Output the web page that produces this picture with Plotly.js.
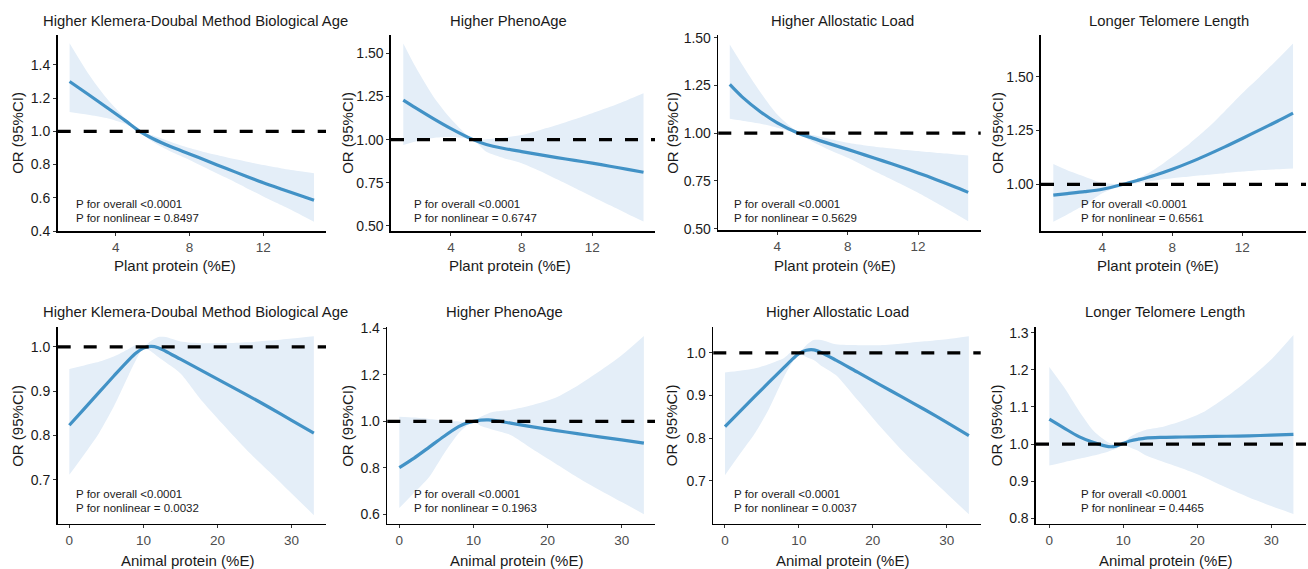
<!DOCTYPE html>
<html><head><meta charset="utf-8">
<script src="https://cdn.plot.ly/plotly-3.0.1.min.js"></script>
<style>html,body{margin:0;padding:0;background:#fff}#chart{width:1308px;height:569px}</style>
</head><body><div id="chart"></div>
<script>
// ---------- DATA ----------
const outcomes = ["Higher Klemera-Doubal Method Biological Age", "Higher PhenoAge", "Higher Allostatic Load", "Longer Telomere Length"];
const exposures = ["Plant protein (%E)", "Animal protein (%E)"];
const yAxisTitle = "OR (95%CI)";
const pOverall = ["<0.0001", "<0.0001", "<0.0001", "<0.0001", "<0.0001", "<0.0001", "<0.0001", "<0.0001"];
const pNonlinear = ["0.8497", "0.6747", "0.5629", "0.6561", "0.0032", "0.1963", "0.0037", "0.4465"];

const plantTicks = [4, 8, 12];
const animalTicks = [0, 10, 20, 30];
const yTicks1 = [0.4, 0.6, 0.8, 1.0, 1.2, 1.4];
const yTicks2 = [0.50, 0.75, 1.00, 1.25, 1.50];
const yTicks3 = [0.50, 0.75, 1.00, 1.25, 1.50];
const yTicks4 = [1.00, 1.25, 1.50];
const yTicks5 = [0.7, 0.8, 0.9, 1.0];
const yTicks6 = [0.6, 0.8, 1.0, 1.2, 1.4];
const yTicks7 = [0.7, 0.8, 0.9, 1.0];
const yTicks8 = [0.8, 0.9, 1.0, 1.1, 1.2, 1.3];

// Panel 1: Plant protein -> KDM biological age
const p1X  = [1.5, 2.5, 3.5, 4.5, 5.3, 6, 7, 8, 9, 10, 11, 12, 13, 14, 14.75];
const p1OR = [1.30, 1.223, 1.145, 1.066, 1.00, 0.957, 0.907, 0.864, 0.82, 0.776, 0.733, 0.691, 0.652, 0.614, 0.585];
const p1Hi = [1.53, 1.35, 1.20, 1.08, 1.004, 0.976, 0.936, 0.899, 0.869, 0.844, 0.82, 0.797, 0.777, 0.76, 0.748];
const p1Lo = [1.116, 1.10, 1.08, 1.045, 0.996, 0.937, 0.877, 0.828, 0.774, 0.72, 0.664, 0.608, 0.555, 0.50, 0.456];

// Panel 2: Plant protein -> PhenoAge
const p2X  = [1.3, 2, 3, 4, 5.25, 6, 7, 8, 9, 10, 11, 12, 13, 14, 14.9];
const p2OR = [1.229, 1.184, 1.122, 1.064, 1.00, 0.972, 0.949, 0.931, 0.913, 0.896, 0.88, 0.864, 0.846, 0.828, 0.811];
const p2Hi = [1.557, 1.42, 1.25, 1.12, 1.002, 1.002, 1.012, 1.027, 1.055, 1.085, 1.118, 1.153, 1.19, 1.23, 1.268];
const p2Lo = [0.969, 0.99, 1.01, 1.015, 0.998, 0.93, 0.893, 0.864, 0.82, 0.77, 0.72, 0.67, 0.62, 0.57, 0.526];

// Panel 3: Plant protein -> Allostatic load
const p3X  = [1.3, 2, 3, 4, 5.2, 6, 7, 8, 9, 10, 11, 12, 13, 14, 14.85];
const p3OR = [1.255, 1.19, 1.115, 1.054, 1.00, 0.974, 0.944, 0.915, 0.885, 0.855, 0.824, 0.792, 0.758, 0.722, 0.69];
const p3Hi = [1.464, 1.36, 1.22, 1.098, 1.006, 0.99, 0.97, 0.95, 0.936, 0.925, 0.915, 0.906, 0.897, 0.89, 0.883];
const p3Lo = [1.075, 1.065, 1.05, 1.028, 0.995, 0.955, 0.91, 0.871, 0.826, 0.78, 0.735, 0.688, 0.637, 0.585, 0.539];

// Panel 4: Plant protein -> Telomere length
const p4X  = [1.2, 2, 3, 4, 5.2, 6, 7, 8, 9, 10, 11, 12, 13, 14, 14.9];
const p4OR = [0.95, 0.957, 0.966, 0.977, 1.00, 1.018, 1.042, 1.07, 1.102, 1.137, 1.174, 1.213, 1.253, 1.293, 1.331];
const p4Hi = [1.094, 1.065, 1.035, 1.007, 1.002, 1.025, 1.07, 1.128, 1.19, 1.26, 1.34, 1.423, 1.50, 1.58, 1.655];
const p4Lo = [0.826, 0.86, 0.905, 0.958, 0.998, 1.005, 1.018, 1.028, 1.036, 1.044, 1.052, 1.059, 1.065, 1.07, 1.074];

// Bottom row: Animal protein
const animalX = [0, 2, 4, 6, 8, 9, 10, 11, 12, 13, 15, 18, 21, 24, 27, 30, 33];
const p5OR = [0.823, 0.86, 0.897, 0.934, 0.97, 0.986, 0.997, 1.001, 0.998, 0.99, 0.972, 0.945, 0.918, 0.891, 0.863, 0.834, 0.805];
const p5Hi = [0.95, 0.958, 0.966, 0.978, 0.995, 1.004, 1.0, 1.013, 1.022, 1.022, 1.012, 1.008, 1.008, 1.01, 1.014, 1.019, 1.024];
const p5Lo = [0.711, 0.757, 0.805, 0.865, 0.936, 0.97, 0.997, 0.99, 0.977, 0.965, 0.94, 0.876, 0.82, 0.766, 0.718, 0.669, 0.62];

const p6OR = [0.801, 0.842, 0.888, 0.935, 0.977, 0.992, 1.0, 1.005, 1.006, 1.003, 0.992, 0.976, 0.961, 0.947, 0.933, 0.92, 0.906];
const p6Hi = [1.02, 1.016, 1.01, 1.003, 0.999, 0.997, 1.0, 1.02, 1.034, 1.042, 1.049, 1.07, 1.10, 1.152, 1.215, 1.284, 1.367];
const p6Lo = [0.627, 0.693, 0.76, 0.86, 0.949, 0.978, 0.999, 0.98, 0.97, 0.96, 0.941, 0.88, 0.82, 0.76, 0.705, 0.653, 0.601];

const p7OR = [0.827, 0.862, 0.897, 0.932, 0.966, 0.983, 0.998, 1.006, 1.007, 1.001, 0.983, 0.954, 0.925, 0.896, 0.867, 0.837, 0.806];
const p7Hi = [0.954, 0.958, 0.963, 0.974, 0.988, 1.002, 0.999, 1.018, 1.03, 1.03, 1.02, 1.018, 1.018, 1.022, 1.027, 1.032, 1.039];
const p7Lo = [0.713, 0.762, 0.81, 0.87, 0.944, 0.975, 0.997, 0.99, 0.983, 0.97, 0.948, 0.888, 0.827, 0.77, 0.719, 0.67, 0.621];

const p8OR = [1.067, 1.043, 1.02, 1.004, 0.993, 0.994, 1.002, 1.009, 1.013, 1.016, 1.018, 1.019, 1.02, 1.021, 1.022, 1.024, 1.026];
const p8Hi = [1.208, 1.153, 1.09, 1.035, 1.004, 0.998, 1.004, 1.02, 1.031, 1.038, 1.045, 1.063, 1.088, 1.128, 1.175, 1.228, 1.294];
const p8Lo = [0.942, 0.951, 0.96, 0.969, 0.98, 0.987, 0.998, 0.99, 0.982, 0.97, 0.955, 0.934, 0.91, 0.882, 0.856, 0.833, 0.811];

// ---------- PANEL TABLE (built from the arrays above) ----------
const W = 1308, H = 569;
const series = [
  {x: p1X, or: p1OR, hi: p1Hi, lo: p1Lo, yt: yTicks1, fmt: 1, xt: plantTicks, title: outcomes[0], xlab: exposures[0]},
  {x: p2X, or: p2OR, hi: p2Hi, lo: p2Lo, yt: yTicks2, fmt: 2, xt: plantTicks, title: outcomes[1], xlab: exposures[0]},
  {x: p3X, or: p3OR, hi: p3Hi, lo: p3Lo, yt: yTicks3, fmt: 2, xt: plantTicks, title: outcomes[2], xlab: exposures[0]},
  {x: p4X, or: p4OR, hi: p4Hi, lo: p4Lo, yt: yTicks4, fmt: 2, xt: plantTicks, title: outcomes[3], xlab: exposures[0]},
  {x: animalX, or: p5OR, hi: p5Hi, lo: p5Lo, yt: yTicks5, fmt: 1, xt: animalTicks, title: outcomes[0], xlab: exposures[1]},
  {x: animalX, or: p6OR, hi: p6Hi, lo: p6Lo, yt: yTicks6, fmt: 1, xt: animalTicks, title: outcomes[1], xlab: exposures[1]},
  {x: animalX, or: p7OR, hi: p7Hi, lo: p7Lo, yt: yTicks7, fmt: 1, xt: animalTicks, title: outcomes[2], xlab: exposures[1]},
  {x: animalX, or: p8OR, hi: p8Hi, lo: p8Lo, yt: yTicks8, fmt: 1, xt: animalTicks, title: outcomes[3], xlab: exposures[1]}
];
// pixel geometry (layout only)
const geo = [
  {xd:[57.7,326], yd:[35,231],    xr:[0.856,15.40], yr:[0.40,1.58],  ann:74,   xt:175,  yx:17.3,  tt:195.5},
  {xd:[391,655],  yd:[35,231],    xr:[0.604,15.55], yr:[0.471,1.606],ann:412,  xt:510,  yx:347.3, tt:508},
  {xd:[718.3,980.7], yd:[35,230], xr:[0.648,15.56], yr:[0.493,1.514],ann:732,  xt:835,  yx:672.3, tt:842},
  {xd:[1041,1306], yd:[35,231],   xr:[0.497,15.64], yr:[0.783,1.694],ann:1079, xt:1158, yx:997.3, tt:1169},
  {xd:[57.7,326], yd:[327.3,523.7],  xr:[-1.57,34.64], yr:[0.6007,1.044], ann:74,   xt:187,  yx:17.3,  tt:195.5},
  {xd:[387.3,655], yd:[327.3,523.7], xr:[-1.62,34.5],  yr:[0.56,1.404],   ann:412,  xt:516,  yx:347.3, tt:504},
  {xd:[713.3,980.7], yd:[327.3,523.7], xr:[-1.58,34.6], yr:[0.599,1.06],  ann:732,  xt:842,  yx:671.7, tt:837},
  {xd:[1036,1306], yd:[327.3,523.7], xr:[-1.8,34.7],   yr:[0.785,1.315],  ann:1079, xt:1165.5, yx:996.7, tt:1164.5}
];
const rowY = [
  {title: 20.5, xtitle: 265, ytitle: 132.5, a1: 204, a2: 218},
  {title: 312.3, xtitle: 560, ytitle: 425.5, a1: 494, a2: 508}
];

const FONT = 'Liberation Sans, Arial, sans-serif';
const lineColor = '#4292c6';
const bandColor = '#e4eef8';
const fx = px => px / W;
const fy = py => 1 - py / H;

const traces = [], shapes = [], annotations = [];
const layout = {
  width: W, height: H, margin: {l: 0, r: 0, t: 0, b: 0},
  paper_bgcolor: '#fff', plot_bgcolor: 'rgba(0,0,0,0)',
  showlegend: false, font: {family: FONT, color: '#1a1a1a'}
};

series.forEach((s, i) => {
  const g = geo[i];
  const row = rowY[i < 4 ? 0 : 1];
  const n = i === 0 ? '' : String(i + 1);
  const xa = 'x' + n, ya = 'y' + n;
  traces.push({x: s.x, y: s.lo, xaxis: xa, yaxis: ya, type: 'scatter', mode: 'lines',
    line: {width: 0, color: bandColor, shape: 'spline', smoothing: 0.7}, hoverinfo: 'skip'});
  traces.push({x: s.x, y: s.hi, xaxis: xa, yaxis: ya, type: 'scatter', mode: 'lines',
    fill: 'tonexty', fillcolor: bandColor,
    line: {width: 0, color: bandColor, shape: 'spline', smoothing: 0.7}, hoverinfo: 'skip'});
  traces.push({x: s.x, y: s.or, xaxis: xa, yaxis: ya, type: 'scatter', mode: 'lines',
    line: {width: 3.2, color: lineColor, shape: 'spline', smoothing: 0.8}});

  layout['xaxis' + n] = {
    domain: [fx(g.xd[0]), fx(g.xd[1])], range: g.xr, anchor: ya,
    showgrid: false, zeroline: false, showline: true, linecolor: '#000', linewidth: 1.6,
    ticks: 'outside', ticklen: 3, tickwidth: 1, tickcolor: '#333',
    tickvals: s.xt, ticktext: s.xt.map(v => String(v)),
    tickfont: {family: FONT, size: 13.5, color: '#4d4d4d'}
  };
  layout['yaxis' + n] = {
    domain: [fy(g.yd[1]), fy(g.yd[0])], range: g.yr, anchor: xa,
    showgrid: false, zeroline: false, showline: true, linecolor: '#000', linewidth: 1.6,
    ticks: 'outside', ticklen: 3, tickwidth: 1, tickcolor: '#333',
    tickvals: s.yt, ticktext: s.yt.map(v => v.toFixed(s.fmt)),
    tickfont: {family: FONT, size: 14, color: '#1a1a1a'}
  };
  shapes.push({type: 'line', xref: xa + ' domain', yref: ya, x0: 0, x1: 1, y0: 1, y1: 1,
    line: {color: '#000', width: 3.2, dash: '13px,13px'}, layer: 'above'});

  annotations.push({text: s.title, xref: 'paper', yref: 'paper', x: fx(g.tt), y: fy(row.title),
    xanchor: 'center', yanchor: 'middle', showarrow: false, font: {family: FONT, size: 14.8, color: '#1a1a1a'}});
  annotations.push({text: s.xlab, xref: 'paper', yref: 'paper', x: fx(g.xt), y: fy(row.xtitle),
    xanchor: 'center', yanchor: 'middle', showarrow: false, font: {family: FONT, size: 15, color: '#1a1a1a'}});
  annotations.push({text: yAxisTitle, xref: 'paper', yref: 'paper', x: fx(g.yx), y: fy(row.ytitle),
    xanchor: 'center', yanchor: 'middle', textangle: -90, showarrow: false, font: {family: FONT, size: 15, color: '#1a1a1a'}});
  annotations.push({text: 'P for overall ' + pOverall[i], xref: 'paper', yref: 'paper', x: fx(g.ann), y: fy(row.a1),
    xanchor: 'left', yanchor: 'middle', showarrow: false, font: {family: FONT, size: 11.5, color: '#1a1a1a'}});
  annotations.push({text: 'P for nonlinear = ' + pNonlinear[i], xref: 'paper', yref: 'paper', x: fx(g.ann), y: fy(row.a2),
    xanchor: 'left', yanchor: 'middle', showarrow: false, font: {family: FONT, size: 11.5, color: '#1a1a1a'}});
});

layout.shapes = shapes;
layout.annotations = annotations;
Plotly.newPlot('chart', traces, layout, {staticPlot: true, displayModeBar: false});
</script>
</body></html>
